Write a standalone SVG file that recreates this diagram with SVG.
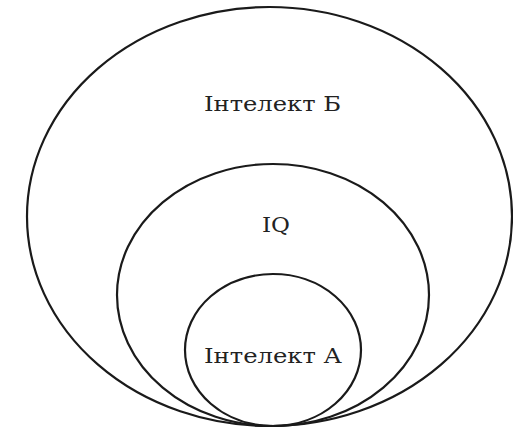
<svg xmlns="http://www.w3.org/2000/svg" width="513" height="429" viewBox="0 0 513 429">
<style>
.e{fill:none;stroke:#1a1a1a;stroke-width:2.2}
.t{font-family:"DejaVu Serif","Liberation Serif",serif;font-size:20px;fill:#222;text-anchor:middle}
</style>
<rect width="513" height="429" fill="#fff"/>
<g id="outer"><ellipse class="e" cx="269.5" cy="216.5" rx="242.5" ry="209.5"/><text class="t" x="272.5" y="111" textLength="137" lengthAdjust="spacingAndGlyphs">Інтелект Б</text></g>
<g id="middle"><ellipse class="e" cx="273" cy="295" rx="156" ry="131"/><text class="t" x="276" y="232" textLength="28" lengthAdjust="spacingAndGlyphs">IQ</text></g>
<g id="inner"><ellipse class="e" cx="273" cy="350" rx="88" ry="76"/><text class="t" x="273" y="363" textLength="138" lengthAdjust="spacingAndGlyphs">Інтелект А</text></g>
<g id="connectors"/>
</svg>
